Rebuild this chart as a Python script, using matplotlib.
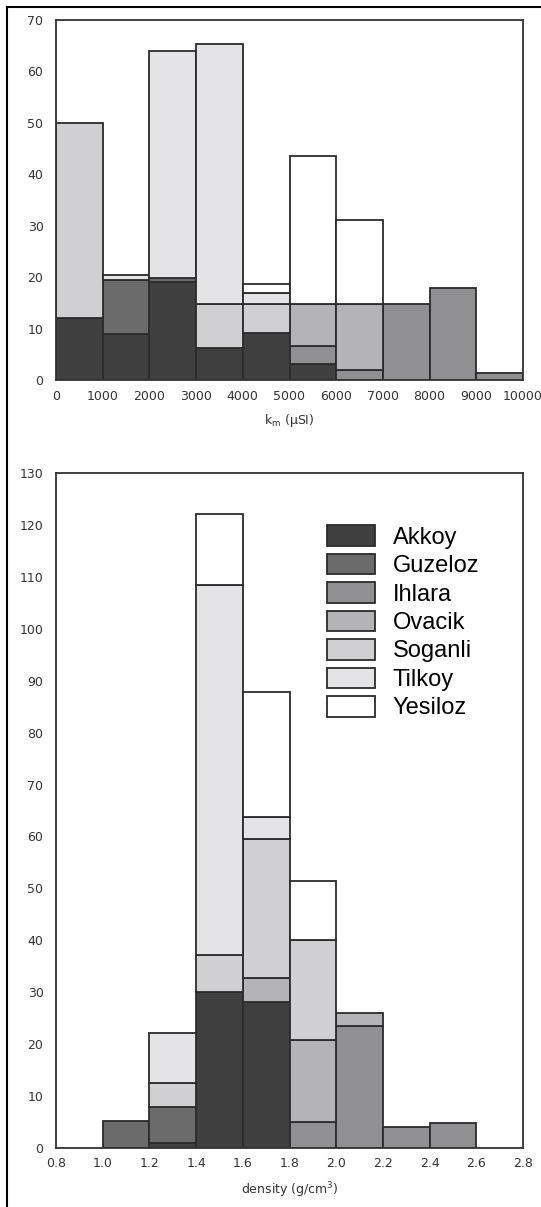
import numpy as np
import matplotlib
matplotlib.use('Agg')
import matplotlib.pyplot as plt
from matplotlib.patches import Patch
from matplotlib.lines import Line2D

# --- data ---
sites = ['Akkoy', 'Guzeloz', 'Ihlara', 'Ovacik', 'Soganli', 'Tilkoy', 'Yesiloz']
site_colors = ['#404040', '#6b6b6b', '#909092', '#b4b4b7', '#d0d0d2', '#e4e4e6', '#ffffff']

# magnetic susceptibility, bins of 1000 uSI from 0 to 10000
km_edges = [0, 1000, 2000, 3000, 4000, 5000, 6000, 7000, 8000, 9000, 10000]
km_akkoy   = [12, 9, 19, 6.3, 9.2, 3.1, 0, 0, 0, 0]
km_guzeloz = [0, 10.5, 0.8, 0, 0, 0, 0, 0, 0, 0]
km_ihlara  = [0, 0, 0, 0, 0, 3.6, 1.9, 14.7, 17.8, 1.3]
km_ovacik  = [0, 0, 0, 0, 0, 8, 12.8, 0, 0, 0]
km_soganli = [38, 0, 0, 8.4, 5.5, 0, 0, 0, 0, 0]
km_tilkoy  = [0, 1, 44.2, 50.6, 2.3, 0, 0, 0, 0, 0]
km_yesiloz = [0, 0, 0, 0, 1.7, 28.9, 16.5, 0, 0, 0]

# density, bins of 0.2 g/cm3 from 0.8 to 2.8
dens_edges = [0.8, 1.0, 1.2, 1.4, 1.6, 1.8, 2.0, 2.2, 2.4, 2.6, 2.8]
dens_akkoy   = [0, 0, 1, 30, 28, 0, 0, 0, 0, 0]
dens_guzeloz = [0, 5.1, 6.9, 0, 0, 0, 0, 0, 0, 0]
dens_ihlara  = [0, 0, 0, 0, 0, 5, 23.5, 3.9, 4.7, 0]
dens_ovacik  = [0, 0, 0, 0, 4.8, 15.8, 2.4, 0, 0, 0]
dens_soganli = [0, 0, 4.6, 7.1, 26.8, 19.2, 0, 0, 0, 0]
dens_tilkoy  = [0, 0, 9.7, 71.3, 4.2, 0, 0, 0, 0, 0]
dens_yesiloz = [0, 0, 0, 13.7, 24.1, 11.4, 0, 0, 0, 0]

km_data = [km_akkoy, km_guzeloz, km_ihlara, km_ovacik, km_soganli, km_tilkoy, km_yesiloz]
dens_data = [dens_akkoy, dens_guzeloz, dens_ihlara, dens_ovacik, dens_soganli, dens_tilkoy, dens_yesiloz]

edge = '#2b2b2b'


def stacked_hist(ax, edges, series):
    edges = np.array(edges)
    left = edges[:-1]
    width = np.diff(edges)
    bottom = np.zeros(len(left))
    for vals, col in zip(series, site_colors):
        vals = np.array(vals, dtype=float)
        m = vals > 0
        ax.bar(left[m], vals[m], width=width[m], bottom=bottom[m], align='edge',
               color=col, edgecolor=edge, linewidth=1.3, zorder=2)
        bottom += vals


def style(ax):
    for s in ax.spines.values():
        s.set_color('#333333')
        s.set_linewidth(1.3)
    ax.tick_params(length=0, labelsize=9, colors='#333333', pad=7)
    ax.tick_params(axis='y', pad=9)


fig = plt.figure(figsize=(5.41, 12.07), dpi=100)

ax1 = fig.add_axes([56 / 541, 1 - 380 / 1207, 467 / 541, 360 / 1207])
stacked_hist(ax1, km_edges, km_data)
ax1.set_xlim(0, 10000)
ax1.set_ylim(0, 70)
ax1.set_xticks(km_edges)
ax1.set_yticks(np.arange(0, 71, 10))
ax1.set_xlabel('k$_{\\mathregular{m}}$ (µSI)', fontsize=9, color='#333333', labelpad=7)
style(ax1)

ax2 = fig.add_axes([56 / 541, 1 - 1147.7 / 1207, 467 / 541, 674.4 / 1207])
stacked_hist(ax2, dens_edges, dens_data)
ax2.set_xlim(0.8, 2.8)
ax2.set_ylim(0, 130)
ax2.set_xticks(dens_edges)
ax2.set_xticklabels(['%.1f' % v for v in dens_edges])
ax2.set_yticks(np.arange(0, 131, 10))
ax2.set_xlabel('density (g/cm$^{\\mathregular{3}}$)', fontsize=9, color='#333333', labelpad=7)
style(ax2)

handles = [Patch(facecolor=c, edgecolor=edge, linewidth=1.3) for c in site_colors]
ax2.legend(handles, sites, loc='upper left', bbox_to_anchor=(0.58, 0.923), frameon=False,
           prop={'family': 'Liberation Sans', 'size': 17}, handlelength=2.05,
           handleheight=0.95, handletextpad=0.75, labelspacing=0.22, borderpad=0.0,
           borderaxespad=0.0)

# outer frame lines (left and top)
fig.add_artist(Line2D([7 / 541, 7 / 541], [0, 1 - 7 / 1207], transform=fig.transFigure,
                      color='black', linewidth=1.5))
fig.add_artist(Line2D([7 / 541, 1], [1 - 7 / 1207, 1 - 7 / 1207], transform=fig.transFigure,
                      color='black', linewidth=1.5))

fig.savefig('out.png', dpi=100)
